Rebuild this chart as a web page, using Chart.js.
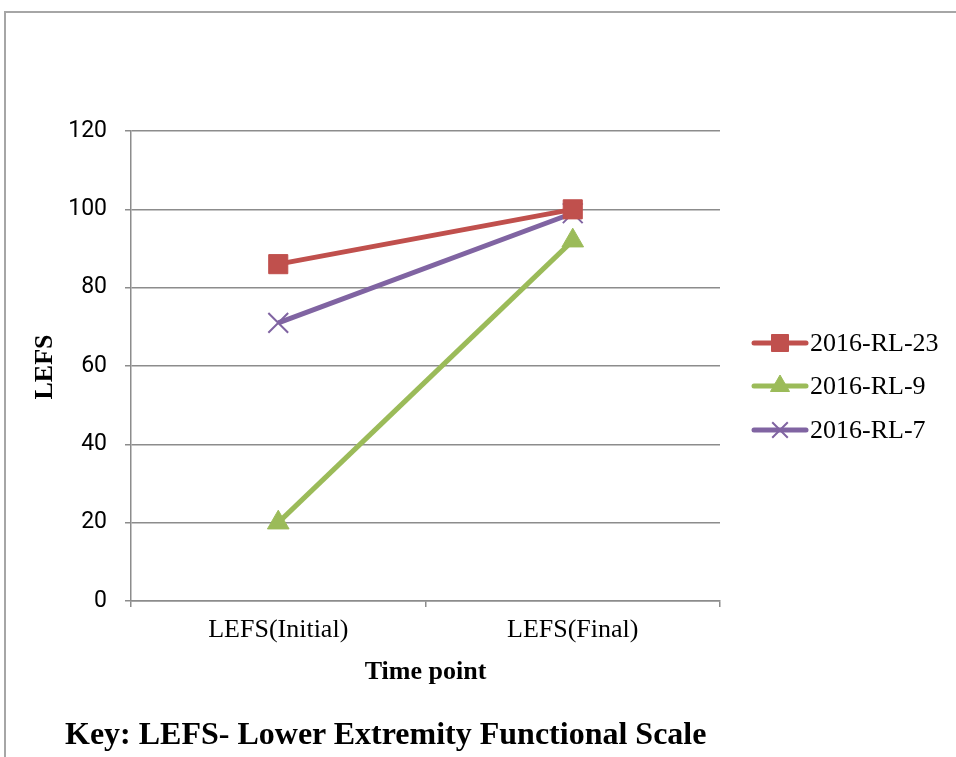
<!DOCTYPE html>
<html>
<head>
<meta charset="utf-8">
<script src="https://cdn.jsdelivr.net/npm/chart.js@4/dist/chart.umd.min.js"></script>
<style>
  html, body { margin: 0; padding: 0; background: #fff; overflow: hidden; }
  #wrap { position: relative; width: 956px; height: 757px; }
  #frame { position: absolute; left: 4px; top: 11px; width: 1000px; height: 800px;
           border: 2px solid #a6a6a6; box-sizing: border-box; }
  #chart { position: absolute; left: 0; top: 0; }
  #key { position: absolute; left: 65px; top: 715px; font: bold 32px "Liberation Serif", "Times New Roman", serif;
         color: #000; white-space: nowrap; }
</style>
</head>
<body>
<div id="wrap">
  <div id="frame"></div>
  <canvas id="chart" width="956" height="757"></canvas>
  <div id="key">Key: LEFS- Lower Extremity Functional Scale</div>
</div>
<script>
// Time points and LEFS scores per patient
const categories = ['LEFS(Initial)', 'LEFS(Final)'];
const rl23 = [86, 100];
const rl9 = [20, 92];
const rl7 = [71, 99];
const yTicks = [0, 20, 40, 60, 80, 100, 120];

const SERIF = '"Liberation Serif", "Times New Roman", serif';
const GRID = '#8c8c8c';

// Draws axis titles and the line+marker legend on the right
const decorations = {
  id: 'decorations',
  afterDraw(chart) {
    const ctx = chart.ctx;
    const area = chart.chartArea;
    ctx.save();
    ctx.fillStyle = '#000';
    ctx.textAlign = 'center';
    ctx.textBaseline = 'middle';
    ctx.font = 'bold 26px ' + SERIF;
    ctx.fillText('Time point', (area.left + area.right) / 2, 672);
    ctx.save();
    ctx.translate(45, 367);
    ctx.rotate(-Math.PI / 2);
    ctx.fillText('LEFS', 0, 0);
    ctx.restore();

    const rows = [343, 386, 430];
    chart.data.datasets.forEach((ds, i) => {
      const y = rows[i];
      ctx.strokeStyle = ds.borderColor;
      ctx.fillStyle = ds.borderColor;
      ctx.lineWidth = 5;
      ctx.lineCap = 'round';
      ctx.beginPath();
      ctx.moveTo(754, y);
      ctx.lineTo(806, y);
      ctx.stroke();
      ctx.lineCap = 'butt';
      ctx.lineWidth = ds.pointBorderWidth;
      Chart.helpers.drawPoint(ctx, {
        pointStyle: ds.pointStyle,
        radius: ds.legendRadius,
        borderWidth: ds.pointBorderWidth
      }, 780, y);
      ctx.fillStyle = '#000';
      ctx.textAlign = 'left';
      ctx.font = '26px ' + SERIF;
      ctx.fillText(ds.label, 810, y + 1);
    });
    ctx.restore();
  }
};

function series(label, data, color, style, radius, legendRadius, bw) {
  return {
    label, data,
    borderColor: color,
    backgroundColor: color,
    pointBackgroundColor: color,
    pointBorderColor: color,
    borderWidth: 5,
    tension: 0,
    pointStyle: style,
    pointRadius: radius,
    pointHoverRadius: radius,
    pointBorderWidth: bw,
    legendRadius
  };
}

new Chart(document.getElementById('chart'), {
  type: 'line',
  data: {
    labels: categories,
    datasets: [
      series('2016-RL-23', rl23, '#c0504d', 'rect', 13.5, 12, 1),
      series('2016-RL-9', rl9, '#9bbb59', 'triangle', 12.5, 11, 1),
      series('2016-RL-7', rl7, '#8064a2', 'crossRot', 14, 11, 2)
    ]
  },
  options: {
    responsive: false,
    animation: false,
    layout: { padding: { top: 131, right: 236, left: 0, bottom: 0 } },
    plugins: { legend: { display: false }, tooltip: { enabled: false } },
    scales: {
      x: {
        offset: true,
        grid: { offset: true, drawOnChartArea: false, drawTicks: true, tickLength: 6, color: GRID, lineWidth: 1.5 },
        border: { color: GRID, width: 1.5 },
        ticks: { color: '#000', font: { family: SERIF, size: 26 }, padding: 8 },
        afterFit(scale) { scale.height = 156; }
      },
      y: {
        min: 0, max: 120,
        afterBuildTicks(scale) { scale.ticks = yTicks.map(v => ({ value: v })); },
        grid: { color: GRID, lineWidth: 1.5, tickLength: 6 },
        border: { color: GRID, width: 1.5 },
        ticks: { color: '#000', font: { family: 'Roboto', size: 23 }, padding: 18 },
        afterFit(scale) { scale.width = 131; }
      }
    }
  },
  plugins: [decorations]
});
</script>
</body>
</html>
